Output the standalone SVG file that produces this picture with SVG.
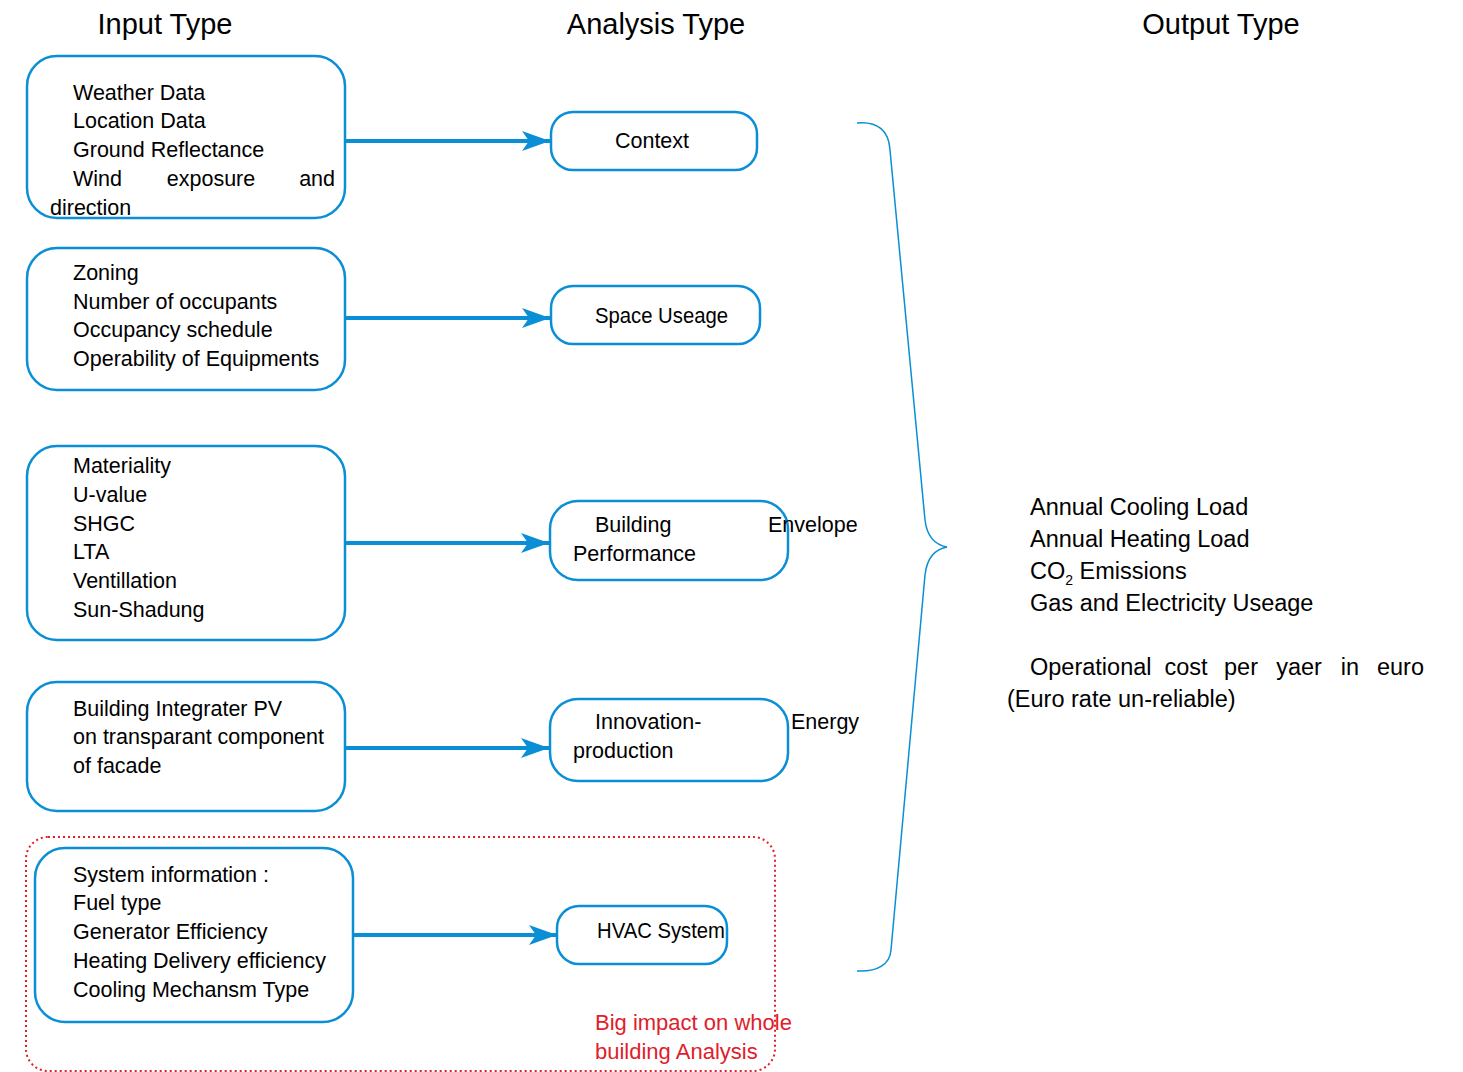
<svg xmlns="http://www.w3.org/2000/svg" width="1463" height="1072" viewBox="0 0 1463 1072">
  <style>
    .title { font-family: "Liberation Sans", Arial, sans-serif; font-size: 29px; fill: #000; }
    .t { font-family: "Liberation Sans", Arial, sans-serif; font-size: 21.5px; fill: #000; }
    .out { font-family: "Liberation Sans", Arial, sans-serif; font-size: 23.5px; fill: #000; }
    .red { font-family: "Liberation Sans", Arial, sans-serif; font-size: 22px; fill: #e0202a; }
    .box { fill: #fff; stroke: #0a8fd6; stroke-width: 2.5; }
    .conn { stroke: #0a8fd6; stroke-width: 4; fill: none; marker-end: url(#head); }
    .brace { fill: none; stroke: #0a8fd6; stroke-width: 1.5; }
    .zone { fill: none; stroke: #e0202a; stroke-width: 2; stroke-dasharray: 2 3; }
  </style>
  <defs>
    <marker id="head" markerUnits="userSpaceOnUse" markerWidth="30" markerHeight="24" refX="28" refY="11" orient="auto">
      <path d="M0,1 L28,11 L0,21 L7,11 Z" fill="#0a8fd6"/>
    </marker>
  </defs>

  <rect width="1463" height="1072" fill="#fff"/>

  <!-- column headings -->
  <g id="headings">
    <text class="title" x="165" y="34" text-anchor="middle">Input Type</text>
    <text class="title" x="656" y="34" text-anchor="middle">Analysis Type</text>
    <text class="title" x="1221" y="34" text-anchor="middle">Output Type</text>
  </g>

  <!-- highlighted system zone -->
  <g id="system-zone">
    <rect class="zone" x="26" y="837" width="749" height="234" rx="22"/>
    <text class="red" x="595" y="1030">Big impact on whole</text>
    <text class="red" x="595" y="1059">building Analysis</text>
  </g>

  <!-- connectors -->
  <g id="connectors">
    <line class="conn" x1="345" y1="141" x2="550" y2="141"/>
    <line class="conn" x1="345" y1="318" x2="550" y2="318"/>
    <line class="conn" x1="345" y1="543" x2="549" y2="543"/>
    <line class="conn" x1="345" y1="748" x2="549" y2="748"/>
    <line class="conn" x1="353" y1="935" x2="557" y2="935"/>
    <path class="brace" d="M857,123 C878,121 889,131 890,150 L925,520 C927,537 936,545 947,547 C936,549 927,557 925,575 L891,950 C890,964 878,972 857,971"/>
  </g>

  <!-- input nodes -->
  <g id="input-climate">
    <rect class="box" x="27" y="56" width="318" height="162" rx="30"/>
    <text class="t" x="73" y="100">Weather Data</text>
    <text class="t" x="73" y="128">Location Data</text>
    <text class="t" x="73" y="157">Ground Reflectance</text>
    <text class="t" y="186"><tspan x="73">Wind</tspan><tspan x="211" text-anchor="middle">exposure</tspan><tspan x="335" text-anchor="end">and</tspan></text>
    <text class="t" x="50" y="215">direction</text>
  </g>
  <g id="input-occupancy">
    <rect class="box" x="27" y="248" width="318" height="142" rx="30"/>
    <text class="t" x="73" y="280">Zoning</text>
    <text class="t" x="73" y="309">Number of occupants</text>
    <text class="t" x="73" y="337">Occupancy schedule</text>
    <text class="t" x="73" y="366">Operability of Equipments</text>
  </g>
  <g id="input-envelope">
    <rect class="box" x="27" y="446" width="318" height="194" rx="30"/>
    <text class="t" x="73" y="473">Materiality</text>
    <text class="t" x="73" y="502">U-value</text>
    <text class="t" x="73" y="531">SHGC</text>
    <text class="t" x="73" y="559">LTA</text>
    <text class="t" x="73" y="588">Ventillation</text>
    <text class="t" x="73" y="617">Sun-Shadung</text>
  </g>
  <g id="input-pv">
    <rect class="box" x="27" y="682" width="318" height="129" rx="30"/>
    <text class="t" x="73" y="716">Building Integrater PV</text>
    <text class="t" x="73" y="744">on transparant component</text>
    <text class="t" x="73" y="773">of facade</text>
  </g>
  <g id="input-system">
    <rect class="box" x="35" y="848" width="318" height="174" rx="30"/>
    <text class="t" x="73" y="882">System information :</text>
    <text class="t" x="73" y="910">Fuel type</text>
    <text class="t" x="73" y="939">Generator Efficiency</text>
    <text class="t" x="73" y="968">Heating Delivery efficiency</text>
    <text class="t" x="73" y="997">Cooling Mechansm Type</text>
  </g>

  <!-- analysis nodes -->
  <g id="analysis-context">
    <rect class="box" x="551" y="112" width="206" height="58" rx="22"/>
    <text class="t" x="652" y="148" text-anchor="middle">Context</text>
  </g>
  <g id="analysis-space">
    <rect class="box" x="551" y="286" width="209" height="58" rx="22"/>
    <text class="t" x="595" y="323" textLength="133" lengthAdjust="spacingAndGlyphs">Space Useage</text>
  </g>
  <g id="analysis-envelope">
    <rect class="box" x="550" y="501" width="238" height="79" rx="28"/>
    <text class="t" x="595" y="532">Building</text>
    <text class="t" x="768" y="532">Envelope</text>
    <text class="t" x="573" y="561">Performance</text>
  </g>
  <g id="analysis-energy">
    <rect class="box" x="550" y="699" width="238" height="82" rx="28"/>
    <text class="t" x="595" y="729">Innovation-</text>
    <text class="t" x="791" y="729">Energy</text>
    <text class="t" x="573" y="758">production</text>
  </g>
  <g id="analysis-hvac">
    <rect class="box" x="557" y="906" width="170" height="58" rx="22"/>
    <text class="t" x="597" y="938" textLength="128" lengthAdjust="spacingAndGlyphs">HVAC System</text>
  </g>

  <!-- outputs -->
  <g id="outputs">
    <text class="out" x="1030" y="515">Annual Cooling Load</text>
    <text class="out" x="1030" y="547">Annual Heating Load</text>
    <text class="out" x="1030" y="579">CO<tspan font-size="14" dy="6">2</tspan><tspan dy="-6"> Emissions</tspan></text>
    <text class="out" x="1030" y="611">Gas and Electricity Useage</text>
    <text class="out" y="675"><tspan x="1030">Operational</tspan><tspan x="1186" text-anchor="middle">cost</tspan><tspan x="1241" text-anchor="middle">per</tspan><tspan x="1299" text-anchor="middle">yaer</tspan><tspan x="1350" text-anchor="middle">in</tspan><tspan x="1424" text-anchor="end">euro</tspan></text>
    <text class="out" x="1007" y="707">(Euro rate un-reliable)</text>
  </g>
</svg>
